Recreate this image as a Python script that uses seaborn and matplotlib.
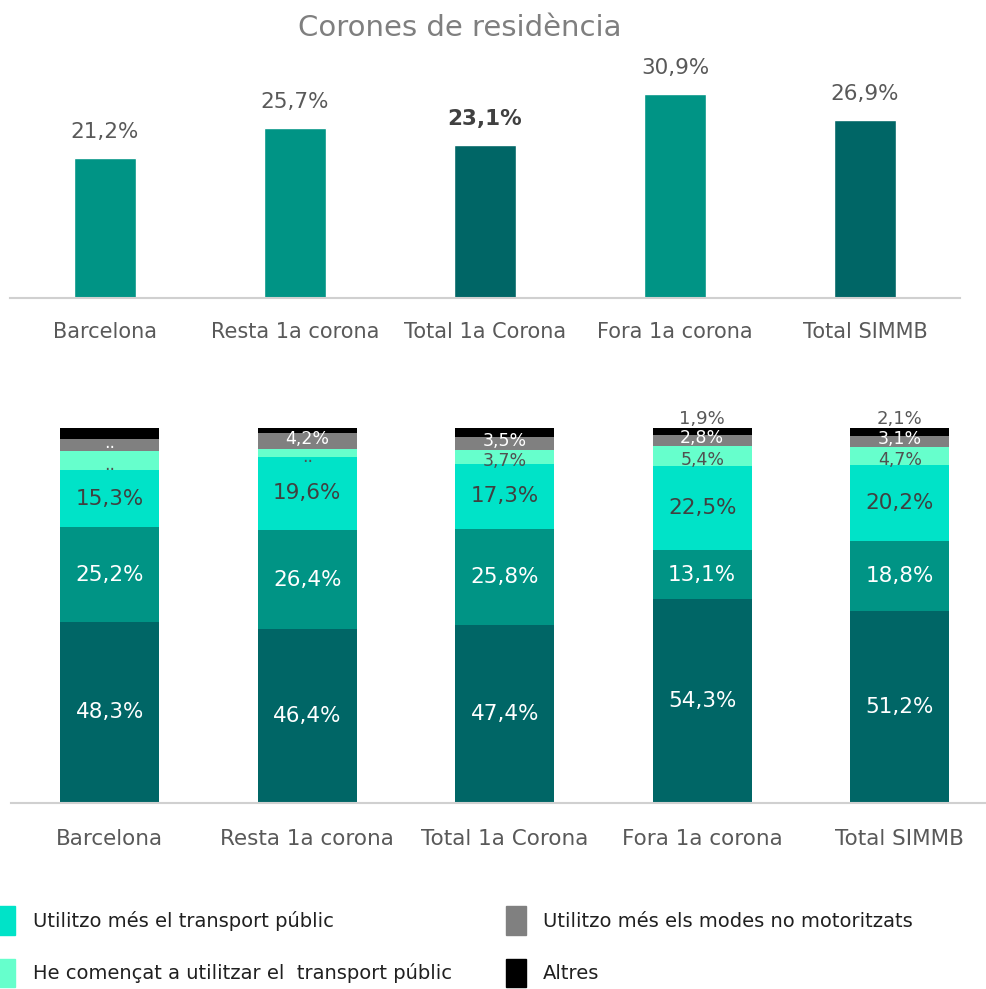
import matplotlib
matplotlib.use("Agg")
import matplotlib.pyplot as plt
import seaborn as sns
import pandas as pd
from matplotlib.patches import Patch

sns.set_theme(style="white")
plt.rcParams['font.family'] = ['DejaVu Sans']

# data
categories = ["Barcelona", "Resta 1a corona", "Total 1a Corona", "Fora 1a corona", "Total SIMMB"]
top_values = [21.2, 25.7, 23.1, 30.9, 26.9]

series_names = ["S1", "S2",
                "Utilitzo més el transport públic",
                "He començat a utilitzar el  transport públic",
                "Utilitzo més els modes no motoritzats",
                "Altres"]
s1 = [48.3, 46.4, 47.4, 54.3, 51.2]
s2 = [25.2, 26.4, 25.8, 13.1, 18.8]
s3 = [15.3, 19.6, 17.3, 22.5, 20.2]
s4 = [5.0, 2.1, 3.7, 5.4, 4.7]
s5 = [3.2, 4.2, 3.5, 2.8, 3.1]
s6 = [3.0, 1.3, 2.3, 1.9, 2.1]

# labels shown on each segment ("" = hidden)
lab3 = ["15,3%", "19,6%", "17,3%", "22,5%", "20,2%"]
lab4 = ["..", "..", "3,7%", "5,4%", "4,7%"]
lab5 = ["..", "4,2%", "3,5%", "2,8%", "3,1%"]
lab6 = ["", "", "", "1,9%", "2,1%"]

c_dark = "#006666"
c_mid = "#009485"
c_cyan = "#00E3C8"
c_mint = "#66FFCC"
c_gray = "#808080"
c_black = "#000000"
seg_colors = [c_dark, c_mid, c_cyan, c_mint, c_gray, c_black]
txt_gray = "#595959"

fig = plt.figure(figsize=(9.86, 9.89), dpi=100)
W, H = 986, 989

# ---- top chart
ax1 = fig.add_axes([10 / W, (H - 298) / H, 950 / W, 238 / H])
top_df = pd.DataFrame({"cat": categories, "val": top_values})
top_colors = [c_mid, c_mid, c_dark, c_mid, c_dark]
sns.barplot(data=top_df, x="cat", y="val", hue="cat", palette=top_colors,
            width=0.33, legend=False, ax=ax1, saturation=1)
ax1.set_ylim(0, 36)
ax1.set_xlim(-0.5, 4.5)
for i, v in enumerate(top_values):
    ax1.text(i, v + 2.4, f"{v:.1f}%".replace(".", ","), ha="center", va="bottom",
             fontsize=15.5, color=txt_gray if i != 2 else "#404040",
             fontweight="bold" if i == 2 else "normal")
ax1.set_title("Corones de residència", fontsize=21, color="#7f7f7f", pad=17, x=0.473)
sns.despine(ax=ax1, left=True)
ax1.spines["bottom"].set_color("#d0d0d0")
ax1.spines["bottom"].set_linewidth(1.5)
ax1.set_yticks([])
ax1.set_xlabel("")
ax1.set_ylabel("")
ax1.tick_params(axis="x", colors=txt_gray, labelsize=15, pad=17, length=0)

# ---- bottom stacked chart
ax2 = fig.add_axes([11 / W, (H - 803) / H, 987.5 / W, 375 / H])
stack_df = pd.DataFrame({"cat": categories, "S1": s1, "S2": s2, "S3": s3,
                         "S4": s4, "S5": s5, "S6": s6})
cols = ["S1", "S2", "S3", "S4", "S5", "S6"]
cum = stack_df[cols].cumsum(axis=1)
# draw cumulative totals from tallest to shortest so each layer shows
for k in range(len(cols) - 1, -1, -1):
    sns.barplot(x=stack_df["cat"], y=cum[cols[k]], color=seg_colors[k],
                width=0.5, ax=ax2, saturation=1, edgecolor="none")
ax2.set_ylim(0, 100)
ax2.set_xlim(-0.5, 4.5)

def put(i, y, txt, color, size=15.5):
    if txt:
        ax2.text(i, y, txt, ha="center", va="center", fontsize=size, color=color)

for i in range(len(categories)):
    b = 0
    for vals in (s1, s2):
        put(i, b + vals[i] / 2, f"{vals[i]:.1f}%".replace(".", ","), "white")
        b += vals[i]
    put(i, b + s3[i] / 2, lab3[i], "#404040")
    b += s3[i]
    put(i, b + s4[i] / 2 - 1.2, lab4[i], "#505050", 12.5)
    b += s4[i]
    put(i, b + s5[i] / 2 + 0.6, lab5[i], "white", 12.5)
    b += s5[i]
    if lab6[i]:
        ax2.text(i, b + 2.0, lab6[i], ha="center", va="bottom", fontsize=13,
                 color=txt_gray, clip_on=False)

sns.despine(ax=ax2, left=True)
ax2.spines["bottom"].set_color("#d0d0d0")
ax2.spines["bottom"].set_linewidth(1.5)
ax2.set_yticks([])
ax2.set_xlabel("")
ax2.set_ylabel("")
ax2.tick_params(axis="x", colors=txt_gray, labelsize=15.5, pad=19, length=0)

# ---- legend
handles = [Patch(color=c_cyan), Patch(color=c_mint), Patch(color=c_gray), Patch(color=c_black)]
labels = series_names[2:]
leg = fig.legend(handles, labels, ncol=2, loc="lower left", bbox_to_anchor=(-0.022, -0.016),
                 frameon=False, handlelength=1.0, handleheight=1.9, handletextpad=0.9,
                 columnspacing=2.8, labelspacing=1.2,
                 prop={"family": ["DejaVu Sans"], "size": 14})
for t in leg.get_texts():
    t.set_color("#202020")

fig.savefig("out.png", dpi=100)
